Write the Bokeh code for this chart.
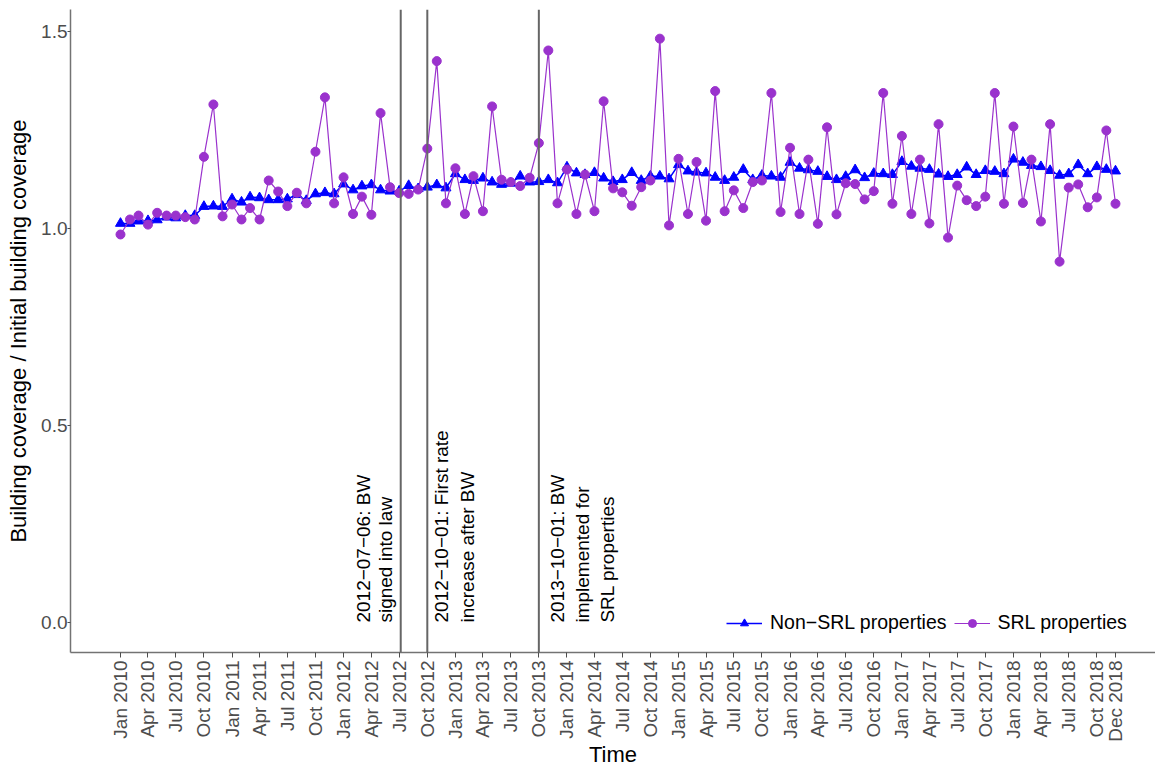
import math
import pandas as pd
from bokeh.plotting import figure
from bokeh.models import (Range1d, FixedTicker, Span, Label, DatetimeTickFormatter,
                          NumeralTickFormatter, Legend, LegendItem)
from bokeh.embed import file_html
from bokeh.resources import INLINE

# ---------------- data ----------------
start_month = "2010-01-01"
end_month = "2018-12-01"

non_srl = [
    1.013, 1.013, 1.019, 1.020, 1.022, 1.029, 1.027, 1.033, 1.033, 1.056, 1.057, 1.056,
    1.075, 1.067, 1.080, 1.078, 1.073, 1.073, 1.075, 1.086, 1.071, 1.088, 1.091, 1.088,
    1.113, 1.098, 1.108, 1.111, 1.098, 1.095, 1.095, 1.109, 1.101, 1.105, 1.111, 1.103,
    1.139, 1.124, 1.122, 1.128, 1.118, 1.112, 1.115, 1.133, 1.118, 1.119, 1.124, 1.116,
    1.156, 1.141, 1.137, 1.142, 1.128, 1.119, 1.124, 1.142, 1.122, 1.133, 1.133, 1.126,
    1.162, 1.146, 1.143, 1.141, 1.130, 1.122, 1.130, 1.150, 1.124, 1.135, 1.133, 1.130,
    1.168, 1.153, 1.149, 1.145, 1.132, 1.124, 1.132, 1.149, 1.129, 1.140, 1.139, 1.137,
    1.170, 1.158, 1.153, 1.150, 1.138, 1.132, 1.137, 1.156, 1.137, 1.147, 1.145, 1.139,
    1.176, 1.168, 1.160, 1.157, 1.147, 1.135, 1.139, 1.162, 1.139, 1.157, 1.150, 1.146,
]

srl = [
    0.985, 1.023, 1.033, 1.010, 1.040, 1.033, 1.033, 1.029, 1.023, 1.182, 1.315, 1.031,
    1.061, 1.023, 1.052, 1.023, 1.122, 1.094, 1.057, 1.091, 1.064, 1.195, 1.333, 1.064,
    1.130, 1.037, 1.081, 1.035, 1.293, 1.105, 1.090, 1.088, 1.099, 1.203, 1.425, 1.064,
    1.153, 1.037, 1.133, 1.044, 1.310, 1.124, 1.118, 1.108, 1.129, 1.217, 1.452, 1.064,
    1.150, 1.037, 1.137, 1.044, 1.323, 1.102, 1.092, 1.058, 1.105, 1.122, 1.482, 1.008,
    1.177, 1.037, 1.169, 1.020, 1.349, 1.044, 1.097, 1.052, 1.118, 1.122, 1.344, 1.042,
    1.205, 1.037, 1.175, 1.012, 1.257, 1.036, 1.115, 1.113, 1.074, 1.095, 1.344, 1.063,
    1.235, 1.037, 1.175, 1.013, 1.265, 0.977, 1.109, 1.072, 1.057, 1.081, 1.344, 1.063,
    1.259, 1.065, 1.175, 1.018, 1.265, 0.916, 1.104, 1.112, 1.054, 1.079, 1.249, 1.063,
]

tick_dates = [f"{y}-{m:02d}-01" for y in range(2010, 2019) for m in (1, 4, 7, 10)] + ["2018-12-01"]
tick_labels = [f"{mn} {y}" for y in range(2010, 2019) for mn in ("Jan", "Apr", "Jul", "Oct")] + ["Dec 2018"]

y_ticks = [0.0, 0.5, 1.0, 1.5]

event_dates = ["2012-07-06", "2012-10-01", "2013-10-01"]
event_texts = [
    ["2012\u221207\u221206: BW", "signed into law"],
    ["2012\u221210\u221201: First rate", "increase after BW"],
    ["2013\u221210\u221201: BW", "implemented for", "SRL properties"],
]
event_offsets = [[-37, -15], [14, 40], [19, 44, 69]]

series_names = ["Non\u2212SRL properties", "SRL properties"]
series_colors = ["#0000FF", "#9A32CD"]

x_title = "Time"
y_title = "Building coverage / Initial building coverage"

# ---------------- helpers ----------------
EPOCH = pd.Timestamp("1970-01-01")


def to_ms(d):
    return int((pd.Timestamp(d) - EPOCH) // pd.Timedelta("1ms"))


months = pd.date_range(start_month, end_month, freq="MS")
x = [to_ms(m) for m in months]
tick_ms = [to_ms(d) for d in tick_dates]
DAY = 86400000

FONT = "Liberation Sans"

p = figure(
    width=1155, height=770,
    x_axis_type="datetime",
    x_range=Range1d(x[0] - 163.6 * DAY, x[-1] + 130.9 * DAY),
    y_range=Range1d(-0.076, 1.556),
    output_backend="svg", toolbar_location=None,
    min_border_left=70, min_border_right=0, min_border_top=9, min_border_bottom=118,
)
p.outline_line_color = None
p.xgrid.visible = False
p.ygrid.visible = False
p.background_fill_color = "white"
p.border_fill_color = "white"

# x axis
xa = p.xaxis[0]
xa.ticker = FixedTicker(ticks=tick_ms)
xa.formatter = DatetimeTickFormatter(months="%b %Y", days="%b %Y", years="%b %Y")
xa.major_label_overrides = {t: lab for t, lab in zip(tick_ms, tick_labels)}
xa.major_label_orientation = math.pi / 2
xa.major_label_text_font = FONT
xa.major_label_text_font_size = "19px"
xa.major_label_text_color = "#4D4D4D"
xa.major_label_standoff = 3
xa.major_tick_out = 5
xa.major_tick_in = 0
xa.major_tick_line_color = "#4D4D4D"
xa.minor_tick_line_color = None
xa.axis_line_color = "#737373"
xa.axis_line_width = 1.5
xa.axis_label = x_title
xa.axis_label_text_font = FONT
xa.axis_label_text_font_size = "22px"
xa.axis_label_text_font_style = "normal"
xa.axis_label_text_color = "black"
xa.axis_label_standoff = -3

# y axis
ya = p.yaxis[0]
ya.ticker = FixedTicker(ticks=y_ticks)
ya.formatter = NumeralTickFormatter(format="0.0")
ya.major_label_text_font = FONT
ya.major_label_text_font_size = "19px"
ya.major_label_text_color = "#4D4D4D"
ya.major_label_standoff = 0
ya.major_tick_out = 3
ya.major_tick_in = 0
ya.major_tick_line_color = "#4D4D4D"
ya.minor_tick_line_color = None
ya.axis_line_color = "#737373"
ya.axis_line_width = 1.5
ya.axis_label = y_title
ya.axis_label_text_font = FONT
ya.axis_label_text_font_size = "22px"
ya.axis_label_text_font_style = "normal"
ya.axis_label_text_color = "black"
ya.axis_label_standoff = 7

# event lines
for d in event_dates:
    p.add_layout(Span(location=to_ms(d), dimension="height",
                      line_color="#666666", line_width=2))

# series
l1 = p.line(x, non_srl, line_color=series_colors[0], line_width=1.5)
s1 = p.scatter(x, non_srl, marker="triangle", size=10,
               fill_color=series_colors[0], line_color=series_colors[0])
l2 = p.line(x, srl, line_color=series_colors[1], line_width=1.2)
s2 = p.scatter(x, srl, marker="circle", size=9,
               fill_color=series_colors[1], line_color=series_colors[1])

# event annotations
for d, lines, offs in zip(event_dates, event_texts, event_offsets):
    for txt, off in zip(lines, offs):
        p.add_layout(Label(x=to_ms(d), y=0, x_units="data", y_units="data",
                           text=txt, angle=math.pi / 2, text_align="left",
                           text_baseline="middle", x_offset=off,
                           text_font=FONT, text_font_size="19px",
                           text_color="black"))

legend = Legend(
    items=[LegendItem(label=series_names[0], renderers=[l1, s1]),
           LegendItem(label=series_names[1], renderers=[l2, s2])],
    orientation="horizontal", location=(656, 18),
    border_line_color=None, background_fill_alpha=0,
    label_text_font=FONT, label_text_font_size="19.5px", label_text_color="black",
    glyph_width=36, glyph_height=20, label_standoff=8, spacing=7,
    padding=0, margin=0,
)
p.add_layout(legend)

open("out.html", "w").write(file_html(p, INLINE))
